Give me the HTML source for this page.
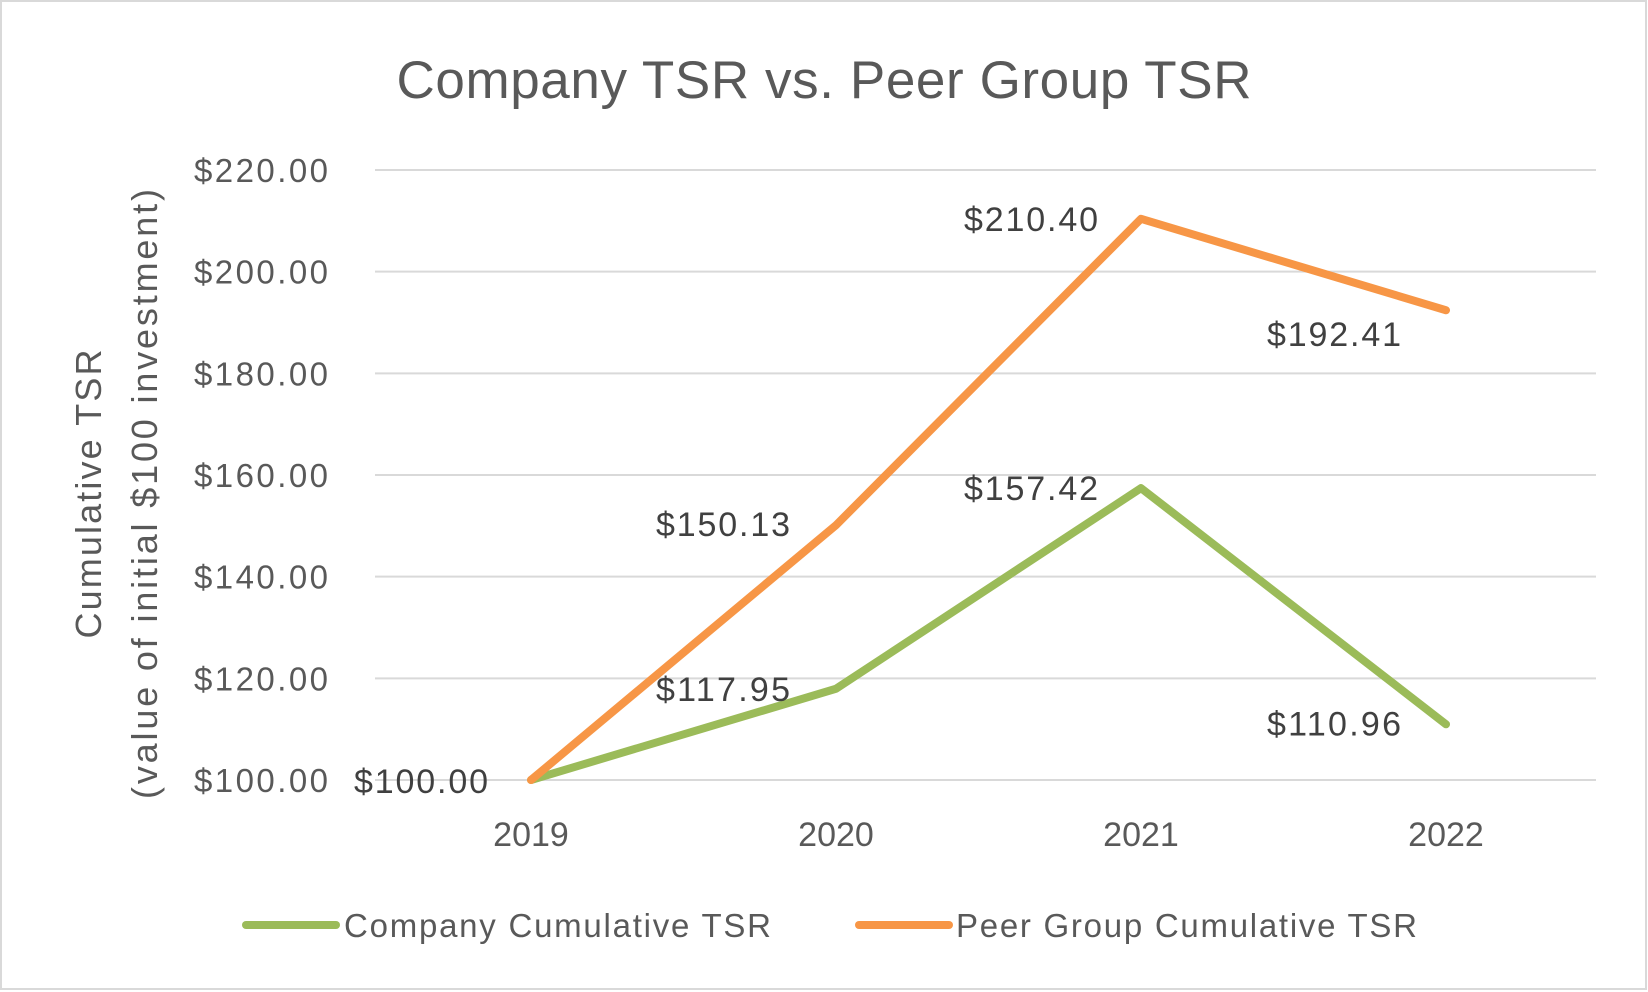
<!DOCTYPE html>
<html><head><meta charset="utf-8"><style>
body{margin:0;background:#fff;}
svg{display:block;font-family:"Liberation Sans",sans-serif;}
</style></head><body>
<svg id="chart" width="1648" height="992" viewBox="0 0 1648 992">
<rect x="1" y="1" width="1645" height="988" fill="#fff" stroke="#d9d9d9" stroke-width="2"/>
<text x="824" y="98" text-anchor="middle" font-size="53" fill="#595959" textLength="855">Company TSR vs. Peer Group TSR</text>
<g transform="translate(89,494) rotate(-90)">
<text x="0" y="12" text-anchor="middle" font-size="36" fill="#595959" textLength="289">Cumulative TSR</text>
<text x="0" y="68" text-anchor="middle" font-size="36" fill="#595959" textLength="610">(value of initial $100 investment)</text>
</g>
<g id="grid"></g><g id="yticks"></g><g id="xticks"></g><g id="lines"></g><g id="labels"></g>
<g>
<line x1="246" y1="925" x2="336" y2="925" stroke="#9bbb59" stroke-width="8" stroke-linecap="round"/>
<text x="344" y="937" font-size="33" fill="#595959" textLength="427">Company Cumulative TSR</text>
<line x1="859" y1="925" x2="949" y2="925" stroke="#f79646" stroke-width="8" stroke-linecap="round"/>
<text x="956" y="937" font-size="33" fill="#595959" textLength="461">Peer Group Cumulative TSR</text>
</g>
</svg>
<script>
const categories = ["2019","2020","2021","2022"];
const companyValues = [100.00, 117.95, 157.42, 110.96];
const peerValues = [100.00, 150.13, 210.40, 192.41];
const yTicks = [100,120,140,160,180,200,220];
const companyLabels = ["$100.00","$117.95","$157.42","$110.96"];
const peerLabels = ["$100.00","$150.13","$210.40","$192.41"];

const NS="http://www.w3.org/2000/svg";
const X0=531, XSTEP=305, Y100=780, PX_PER=(780-170)/120;
function xs(i){return X0+i*XSTEP;}
function ys(v){return Y100-(v-100)*PX_PER;}
function mk(tag,attrs,parent,txt){const e=document.createElementNS(NS,tag);for(const k in attrs)e.setAttribute(k,attrs[k]);if(txt!==undefined)e.textContent=txt;document.getElementById(parent).appendChild(e);return e;}

yTicks.forEach(t=>{
  const g=mk('line',{x1:375,x2:1596,y1:ys(t),y2:ys(t),stroke:'#d9d9d9','stroke-width':2},'grid');
  
  
  const l=mk('text',{x:328,y:ys(t)+12,'text-anchor':'end','font-size':33,fill:'#595959',textLength:134},'yticks','$'+t.toFixed(2));
  
  
});
categories.forEach((c,i)=>{
  const l=mk('text',{x:xs(i),y:846,'text-anchor':'middle','font-size':34,fill:'#595959'},'xticks',c);
  
  
});
function series(vals,color,name){
  const pts=vals.map((v,i)=>xs(i)+','+ys(v)).join(' ');
  const p=mk('polyline',{points:pts,fill:'none',stroke:color,'stroke-width':8,'stroke-linejoin':'round','stroke-linecap':'round'},'lines');
  
  
}
series(companyValues,'#9bbb59','company-line');
series(peerValues,'#f79646','peer-line');
const compOff=[[-110,13],[-113,12],[-110,12],[-112,11]];
const peerOff=[[-110,13],[-113,11],[-110,12],[-112,36]];
function labels(vals,texts,off,name){
  vals.forEach((v,i)=>{
    if(name==='peer-data-label'&&i===0)return;
    const t=mk('text',{x:xs(i)+off[i][0],y:ys(v)+off[i][1],'text-anchor':'middle','font-size':34,fill:'#404040',textLength:134},'labels',texts[i]);
    
    
  });
}
labels(companyValues,companyLabels,compOff,'company-data-label');
labels(peerValues,peerLabels,peerOff,'peer-data-label');
</script>
</body></html>
